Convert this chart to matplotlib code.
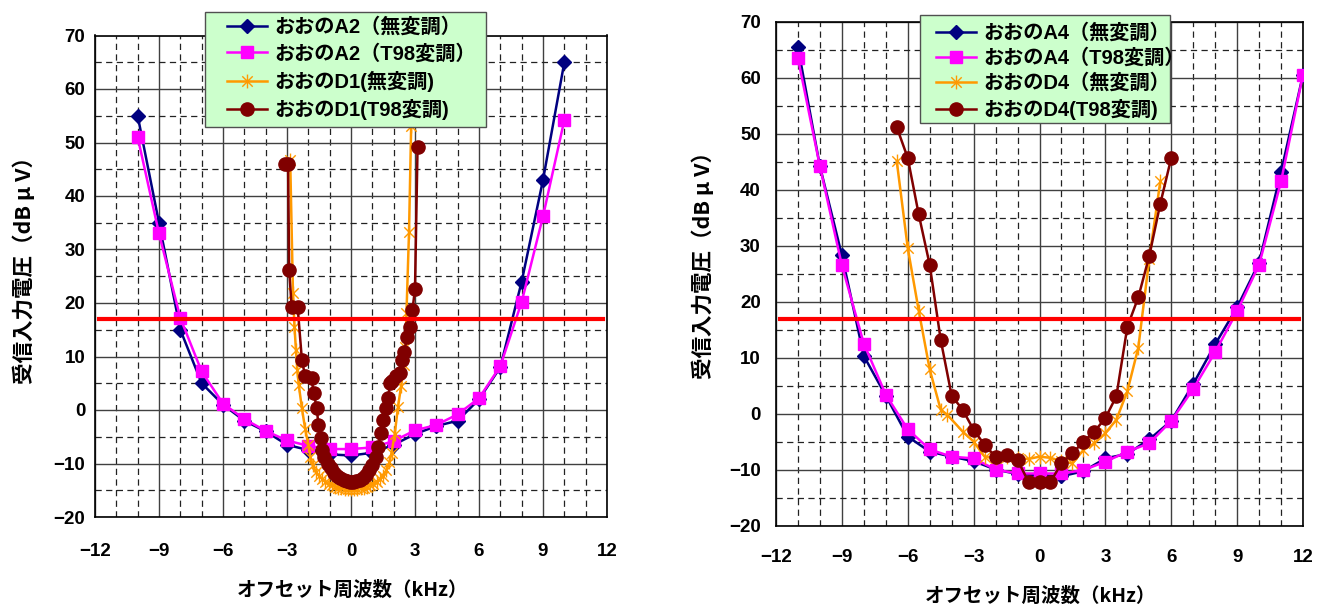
import matplotlib
matplotlib.use('Agg')
import matplotlib.pyplot as plt
from matplotlib.path import Path
from matplotlib.patches import Rectangle

plt.rcParams['font.family'] = ['Liberation Sans', 'Noto Sans CJK JP', 'DejaVu Sans']
plt.rcParams['font.weight'] = 'bold'

# ---------------- data: left chart ----------------
a2_x = list(range(-10, 11))
a2_plain = [55, 35, 15, 5, 1, -2, -4, -6.5, -7.5, -8.3, -8.5, -8, -6.5, -4.5, -3, -2, 2, 8, 24, 43, 65]
a2_t98 = [51, 33, 17.2, 7.2, 1.2, -1.7, -3.9, -5.7, -6.7, -7.3, -7.3, -7, -5.8, -3.8, -2.8, -0.8, 2.2, 8.2, 20.2, 36.2, 54.2]

d1_plain_x = [-2.85, -2.72, -2.65, -2.58, -2.52, -2.45, -2.3, -2.15, -2.0, -1.9,
              -1.8, -1.65, -1.5, -1.35, -1.2, -1.05, -0.9, -0.75, -0.6, -0.45,
              -0.3, -0.15, 0, 0.15, 0.3, 0.45, 0.6, 0.75, 0.9, 1.05,
              1.2, 1.35, 1.5, 1.65, 1.8, 1.9, 2.05, 2.2, 2.35, 2.5,
              2.55, 2.6, 2.72, 2.82]
d1_plain_y = [46.7, 21.8, 15.6, 11.2, 7.5, 4.7, 0.3, -3.5, -6.5, -8.8,
              -10.3, -11.5, -12.3, -12.9, -13.4, -13.8, -14.1, -14.3, -14.5, -14.6,
              -14.7, -14.7, -14.7, -14.7, -14.7, -14.6, -14.5, -14.3, -14.1, -13.8,
              -13.4, -12.9, -12.3, -11.3, -9.8, -8, -4.5, 0.5, 4.5, 8.5,
              11.8, 18.1, 33.3, 53]

d1_t98_x = [-3.1, -2.95, -2.9, -2.78, -2.5, -2.3, -2.15, -1.85, -1.75, -1.6,
            -1.53, -1.42, -1.35, -1.25, -1.1, -0.95, -0.8, -0.65, -0.5, -0.35,
            -0.2, -0.05, 0.1, 0.25, 0.4, 0.55, 0.7, 0.85, 1.0, 1.15,
            1.28, 1.4, 1.5, 1.62, 1.74, 1.83, 1.92, 2.1, 2.3, 2.4,
            2.5, 2.62, 2.77, 2.88, 3.0, 3.12]
d1_t98_y = [46, 46, 26.2, 19.2, 19.2, 9.3, 6.3, 5.9, 3.1, 0.3,
            -2.8, -5.3, -7.5, -8.8, -10, -10.9, -11.7, -12.3, -12.8, -13.1,
            -13.3, -13.4, -13.4, -13.3, -13.1, -12.7, -12.1, -11.3, -10.2, -8.8,
            -7, -4.3, -1.9, 0.3, 2.2, 5.0, 5.4, 6.3, 7, 9.3,
            10.8, 13.7, 15.6, 18.7, 22.6, 49.2]

# ---------------- data: right chart ----------------
a4_x = list(range(-11, 13))
a4_plain = [65.5, 44.2, 28.3, 10.3, 3.2, -4.1, -6.8, -7.7, -8.5, -10, -10.8, -11,
            -11.2, -10.3, -8, -7.2, -4.6, -1.3, 5.3, 12.4, 19, 27, 43.2, 60.6]
a4_t98 = [63.5, 44.2, 26.5, 12.5, 3.4, -2.8, -6.4, -7.7, -8.0, -10, -10.7, -10.7,
          -10.7, -10.1, -8.6, -6.8, -5.3, -1.3, 4.4, 11.0, 18.3, 26.6, 41.5, 60.6]

d4_plain_x = [-6.5, -6, -5.5, -5, -4.5, -4.2, -3.5, -3, -2.5, -2, -1.5, -1, -0.5,
              0, 0.5, 1, 1.5, 2, 2.5, 3, 3.5, 4, 4.5, 5, 5.5]
d4_plain_y = [45.1, 29.6, 18.4, 7.9, 0.7, -0.2, -3.2, -5.0, -7.7, -8.0, -7.8, -8.0, -8.1,
              -7.7, -7.9, -8.5, -8.9, -6.5, -5.3, -3.5, -1.1, 4.0, 11.8, 27.7, 41.5]

d4_t98_x = [-6.5, -6, -5.5, -5, -4.5, -4, -3.5, -3, -2.5, -2, -1.5, -1, -0.5,
            0, 0.5, 1, 1.5, 2, 2.5, 3, 3.5, 4, 4.5, 5, 5.5, 6]
d4_t98_y = [51.2, 45.7, 35.6, 26.6, 13.2, 3.2, 0.7, -2.9, -5.6, -7.7, -7.4, -8.3, -12.2,
            -12.2, -12.2, -8.9, -7.1, -5.0, -3.2, -0.8, 3.1, 15.5, 20.8, 28.2, 37.5, 45.7]

ref_x = [-11.8, 11.8]
ref_y = [17, 17]

labels_left = ['おおのA2（無変調）', 'おおのA2（T98変調）', 'おおのD1(無変調)', 'おおのD1(T98変調)']
labels_right = ['おおのA4（無変調）', 'おおのA4（T98変調）', 'おおのD4（無変調）', 'おおのD4(T98変調)']
x_ticks = list(range(-12, 13, 3))
y_ticks = list(range(-20, 71, 10))
xlabel = 'オフセット周波数（kHz）'
ylabel = '受信入力電圧（dB μ V）'

# ---------------- styling ----------------
NAVY = '#000080'
MAGENTA = '#FF00FF'
ORANGE = '#FF9900'
MAROON = '#800000'
RED = '#FF0000'

star = Path([(0, -1), (0, 1), (-0.75, -0.75), (0.75, 0.75), (-0.75, 0.75), (0.75, -0.75)],
            [Path.MOVETO, Path.LINETO, Path.MOVETO, Path.LINETO, Path.MOVETO, Path.LINETO])

W, H = 1317, 604
fig = plt.figure(figsize=(W / 100, H / 100), dpi=100)


def px_axes(x0, x1, ytop, ybot):
    return fig.add_axes([x0 / W, 1 - ybot / H, (x1 - x0) / W, (ybot - ytop) / H])


def draw(ax, ax_x, a_plain, a_t98, dpx, dpy, dtx, dty, labels, box, hx, hy, lspace, ypad, xpad):
    ax.set_xlim(-12, 12)
    ax.set_ylim(-20, 70)
    ax.set_xticks(x_ticks)
    ax.set_xticks(list(range(-12, 13)), minor=True)
    ax.set_yticks(y_ticks)
    ax.set_yticks(list(range(-20, 71, 5)), minor=True)
    ax.grid(which='major', color='#404040', lw=1.0, ls='-')
    ax.grid(which='minor', color='#222222', lw=0.9, ls=(0, (5, 3.5)))
    ax.set_axisbelow(True)
    ax.tick_params(which='both', length=0)
    ax.tick_params(axis='y', pad=ypad, labelsize=13.5)
    ax.tick_params(axis='x', pad=xpad, labelsize=13.5)
    for t in ax.get_xticklabels() + ax.get_yticklabels():
        t.set_fontweight('bold')
    for s in ax.spines.values():
        s.set_color('black')
        s.set_linewidth(1.2)

    h1, = ax.plot(ax_x, a_plain, color=NAVY, lw=1.8, marker='D', ms=7, mfc=NAVY, mec=NAVY, zorder=3)
    h2, = ax.plot(ax_x, a_t98, color=MAGENTA, lw=1.8, marker='s', ms=8.5, mfc=MAGENTA, mec=MAGENTA, zorder=4)
    h3, = ax.plot(dpx, dpy, color=ORANGE, lw=1.8, marker=star, ms=10, mfc='none', mec=ORANGE, mew=1.0, zorder=5)
    h4, = ax.plot(dtx, dty, color=MAROON, lw=1.8, marker='o', ms=9.5, mfc=MAROON, mec=MAROON, zorder=6)
    ax.plot(ref_x, ref_y, color=RED, lw=3, zorder=7)

    x0, y0, x1, y1 = box
    rect = Rectangle((x0 / W, 1 - y1 / H), (x1 - x0) / W, (y1 - y0) / H, transform=fig.transFigure,
                     facecolor='#CCFFCC', edgecolor='#505050', lw=1.0, zorder=19)
    fig.add_artist(rect)
    leg = ax.legend([h1, h2, h3, h4], labels, loc='upper left',
                    bbox_to_anchor=(hx / W, 1 - hy / H), bbox_transform=fig.transFigure,
                    borderaxespad=0, borderpad=0, frameon=False,
                    prop={'size': 14.5, 'weight': 'bold'},
                    handlelength=2.0, labelspacing=lspace, handletextpad=0.35)
    leg.set_zorder(20)
    fig.add_artist(leg)


axL = px_axes(95, 607, 35.5, 517)
draw(axL, a2_x, a2_plain, a2_t98, d1_plain_x, d1_plain_y, d1_t98_x, d1_t98_y,
     labels_left, (205, 12, 486, 127), 227, 17, 0.36, 7, 19)
axR = px_axes(776, 1303, 22, 525.5)
draw(axR, a4_x, a4_plain, a4_t98, d4_plain_x, d4_plain_y, d4_t98_x, d4_t98_y,
     labels_right, (920, 15, 1170, 123), 936, 23, 0.28, 11, 17)

xlab_font = dict(fontsize=14, fontweight='bold', family=['Noto Sans CJK JP', 'DejaVu Sans'])
ylab_font = dict(fontsize=15.5, fontweight='bold', family=['Noto Sans CJK JP', 'DejaVu Sans'])
fig.text(352 / W, 1 - 590 / H, xlabel, ha='center', va='center', **xlab_font)
fig.text(1040 / W, 1 - 596 / H, xlabel, ha='center', va='center', **xlab_font)
fig.text(24 / W, 1 - 265 / H, ylabel, ha='center', va='center', rotation=90, **ylab_font)
fig.text(703 / W, 1 - 260 / H, ylabel, ha='center', va='center', rotation=90, **ylab_font)

fig.savefig('out.png', dpi=100)
